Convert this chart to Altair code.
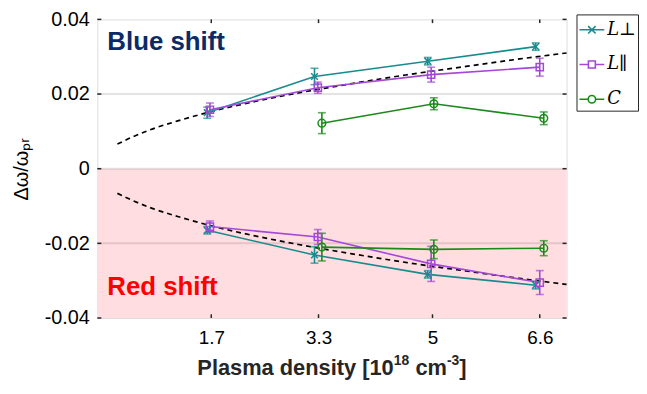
import altair as alt
import pandas as pd

# ---- data ----
series_keys = ["perp", "par", "C"]
colors = ["#178c8e", "#a348d8", "#1a8a1a"]

# L_perp (teal)
perp_x = [1.64, 3.24, 4.93, 6.54]
perp_up = [0.0150, 0.0247, 0.0288, 0.0327]
perp_up_err = [0.0015, 0.0022, 0.0010, 0.0010]
perp_dn = [-0.0165, -0.0231, -0.0283, -0.0312]
perp_dn_err = [0.0010, 0.0022, 0.0010, 0.0010]

# L_par (purple)
par_x = [1.68, 3.29, 4.98, 6.6]
par_up = [0.0158, 0.0217, 0.0252, 0.0272]
par_up_err = [0.0018, 0.0015, 0.0020, 0.0024]
par_dn = [-0.0155, -0.0183, -0.0255, -0.0305]
par_dn_err = [0.0015, 0.0020, 0.0047, 0.0032]

# C (green)
c_x = [3.35, 5.02, 6.66]
c_up = [0.0122, 0.0174, 0.0135]
c_up_err = [0.0028, 0.0016, 0.0017]
c_dn = [-0.0210, -0.0216, -0.0213]
c_dn_err = [0.0037, 0.0025, 0.0020]

# dashed guide curve
curve_x = [0.3, 0.5, 0.8, 1.2, 1.7, 2.3, 3.0, 3.8, 4.6, 5.5, 6.3, 7.0]
curve_y = [0.0066, 0.0083, 0.0105, 0.0128, 0.0153, 0.0178, 0.0203, 0.0228, 0.0251, 0.0274, 0.0294, 0.0310]

x_ticks = [1.7, 3.3, 5, 6.6]
y_ticks = [-0.04, -0.02, 0, 0.02, 0.04]
grid_y = [-0.02, 0, 0.02]

# x-axis title pieces
xtitle_parts = ["Plasma density [10", "18", "cm", "-3", "]"]

W, H = 473, 301

# ---- tables ----
rows = []
for key, xs, up, upe, dn, dne in [
    ("perp", perp_x, perp_up, perp_up_err, perp_dn, perp_dn_err),
    ("par", par_x, par_up, par_up_err, par_dn, par_dn_err),
    ("C", c_x, c_up, c_up_err, c_dn, c_dn_err),
]:
    for xv, yv, ev in zip(xs, up, upe):
        rows.append(dict(series=key, branch=key + "_up", x=xv, y=yv, lo=yv - ev, hi=yv + ev))
    for xv, yv, ev in zip(xs, dn, dne):
        rows.append(dict(series=key, branch=key + "_dn", x=xv, y=yv, lo=yv - ev, hi=yv + ev))
df = pd.DataFrame(rows)

curve = pd.DataFrame(
    [dict(branch="up", x=a, y=b) for a, b in zip(curve_x, curve_y)]
    + [dict(branch="dn", x=a, y=-b) for a, b in zip(curve_x, curve_y)]
)

X = alt.Scale(domain=[0, 7], nice=False, zero=False)
Y = alt.Scale(domain=[-0.04, 0.04], nice=False, zero=False)

x_enc = alt.X("x:Q", scale=X, axis=alt.Axis(
    values=x_ticks, labelExpr="datum.value + ''", title=None,
    grid=False, ticks=False, domain=False, labelPadding=11, labelFontSize=19))
y_enc = alt.Y("y:Q", scale=Y, axis=alt.Axis(
    values=y_ticks,
    labelExpr="datum.value == 0 ? '0' : (datum.value < 0 ? '-' + format(-datum.value, '.2f') : format(datum.value, '.2f'))",
    title="Δω/ωₚᵣ", grid=False, ticks=False, domain=False, labelPadding=8, titlePadding=13,
    labelFontSize=20, titleFontSize=20, titleFontWeight="normal"))

def cscale():
    return alt.Scale(domain=series_keys, range=colors)

path_x = "M-1,-1L1,1M-1,1L1,-1"
leg_perp = "M-1,0L1,0M-0.3,-0.3L0.3,0.3M-0.3,0.3L0.3,-0.3"
leg_par = "M-1,0L-0.28,0M0.28,0L1,0M-0.28,-0.28L0.28,-0.28L0.28,0.28L-0.28,0.28Z"
leg_c = "M-1,0L-0.3,0M0.3,0L1,0M-0.3,0A0.3,0.3,0,1,0,0.3,0A0.3,0.3,0,1,0,-0.3,0"

band = alt.Chart(pd.DataFrame({"x": [0], "x2": [7], "y": [-0.04], "y2": [0]})).mark_rect(
    color="#ffdde1").encode(x=x_enc, x2="x2:Q", y=y_enc, y2="y2:Q")

grid = alt.Chart(pd.DataFrame({"y": grid_y})).mark_rule(
    color="black", opacity=0.11, strokeWidth=2).encode(y=alt.Y("y:Q", scale=Y))

dashed = alt.Chart(curve).mark_line(
    color="black", strokeDash=[5, 4], strokeWidth=1.7, interpolate="monotone").encode(
    x=alt.X("x:Q", scale=X), y=alt.Y("y:Q", scale=Y), detail="branch:N")

lines = alt.Chart(df).mark_line(strokeWidth=1.6).encode(
    x=alt.X("x:Q", scale=X), y=alt.Y("y:Q", scale=Y), detail="branch:N",
    color=alt.Color("series:N", scale=cscale(), legend=None))

err = alt.Chart(df).mark_rule(strokeWidth=1.6).encode(
    x=alt.X("x:Q", scale=X), y=alt.Y("lo:Q", scale=Y), y2="hi:Q",
    color=alt.Color("series:N", scale=cscale(), legend=None))
cap_lo = alt.Chart(df).mark_tick(orient="horizontal", size=8, thickness=1.6).encode(
    x=alt.X("x:Q", scale=X), y=alt.Y("lo:Q", scale=Y),
    color=alt.Color("series:N", scale=cscale(), legend=None))
cap_hi = alt.Chart(df).mark_tick(orient="horizontal", size=8, thickness=1.6).encode(
    x=alt.X("x:Q", scale=X), y=alt.Y("hi:Q", scale=Y),
    color=alt.Color("series:N", scale=cscale(), legend=None))

points = alt.Chart(df).mark_point(filled=False, strokeWidth=1.5, opacity=1).encode(
    x=alt.X("x:Q", scale=X), y=alt.Y("y:Q", scale=Y),
    color=alt.Color("series:N", scale=cscale(), legend=None),
    shape=alt.Shape("series:N", scale=alt.Scale(domain=series_keys, range=[path_x, "square", "circle"]), legend=None),
    size=alt.Size("series:N", scale=alt.Scale(domain=series_keys, range=[45, 60, 65]), legend=None))

legend_props = dict(
    title=None, orient="none", legendX=483, legendY=-5,
    labelExpr="datum.value == 'perp' ? 'L⊥' : (datum.value == 'par' ? 'L∥' : 'C')",
    labelFont="DejaVu Serif", labelFontStyle="italic", labelFontSize=18, labelColor="black",
    symbolSize=625, symbolStrokeWidth=1.6, symbolFillColor="transparent", symbolOpacity=1,
    labelOffset=2, strokeColor="#262626", fillColor="white", padding=2, rowPadding=12)

legend_layer = alt.Chart(df).transform_filter("datum.x > 100").mark_point(
    filled=False, strokeWidth=1.6, size=625).encode(
    x=alt.X("x:Q", scale=X), y=alt.Y("y:Q", scale=Y),
    color=alt.Color("series:N", scale=cscale(), legend=alt.Legend(**legend_props)),
    shape=alt.Shape("series:N", scale=alt.Scale(domain=series_keys, range=[leg_perp, leg_par, leg_c]),
                    legend=alt.Legend(**legend_props)))

# inward ticks (box style)
xt = pd.DataFrame({"x": x_ticks * 2, "y": [-0.04] * 4 + [0.04] * 4, "y2": [-0.039] * 4 + [0.039] * 4})
xticks_l = alt.Chart(xt).mark_rule(color="#262626", strokeWidth=1.5).encode(
    x=alt.X("x:Q", scale=X), y=alt.Y("y:Q", scale=Y), y2="y2:Q")
yt = pd.DataFrame({"x": [0] * 5 + [7] * 5, "x2": [0.06] * 5 + [6.94] * 5, "y": y_ticks * 2})
yticks_l = alt.Chart(yt).mark_rule(color="#262626", strokeWidth=1.5).encode(
    x=alt.X("x:Q", scale=X), x2="x2:Q", y=alt.Y("y:Q", scale=Y))

labels = pd.DataFrame({"x": [0.15, 0.15], "y": [0.0340, -0.0316], "t": ["Blue shift", "Red shift"],
                       "c": ["#0b2a66", "#ff0000"]})
texts = alt.Chart(labels).mark_text(align="left", baseline="middle", fontSize=26, fontWeight="bold",
                                     font="Liberation Sans").encode(
    x=alt.X("x:Q", scale=X), y=alt.Y("y:Q", scale=Y), text="t:N", color=alt.Color("c:N", scale=None))

# x-axis title with real superscripts (layout offsets in pixels)
fs_main, fs_sup = 22, 14
wid = {"Plasma density [10": 9.004 * fs_main, "18": 1.112 * fs_sup + 0.278 * fs_main,
       "cm": 1.445 * fs_main, "-3": 0.889 * fs_sup, "]": 0.333 * fs_main}
total = sum(wid.values())
x0 = W / 2 - total / 2
title_layers = []
for part in xtitle_parts:
    sup = part in ("18", "-3")
    title_layers.append(
        alt.Chart(pd.DataFrame({"t": [part]})).mark_text(
            align="left", baseline="alphabetic", font="Liberation Sans", fontWeight="bold",
            fontSize=fs_sup if sup else fs_main, color="#262626").encode(
            x=alt.value(x0), y=alt.value(H + (47 if sup else 57)), text="t:N"))
    x0 += wid[part]

chart = alt.layer(band, grid, dashed, lines, err, cap_lo, cap_hi, points, xticks_l, yticks_l, texts,
                  *title_layers, legend_layer).resolve_scale(color="independent", shape="independent").properties(
    width=W, height=H, padding={"top": 0, "left": 3, "right": 0, "bottom": 0}
).configure_view(stroke="#262626", strokeWidth=1.5).configure_axis(
    labelFont="Liberation Sans", titleFont="Liberation Sans", labelColor="#262626", titleColor="#262626"
).configure(background="white")

chart.save("out.html", embed_options={"renderer": "svg", "actions": False})
